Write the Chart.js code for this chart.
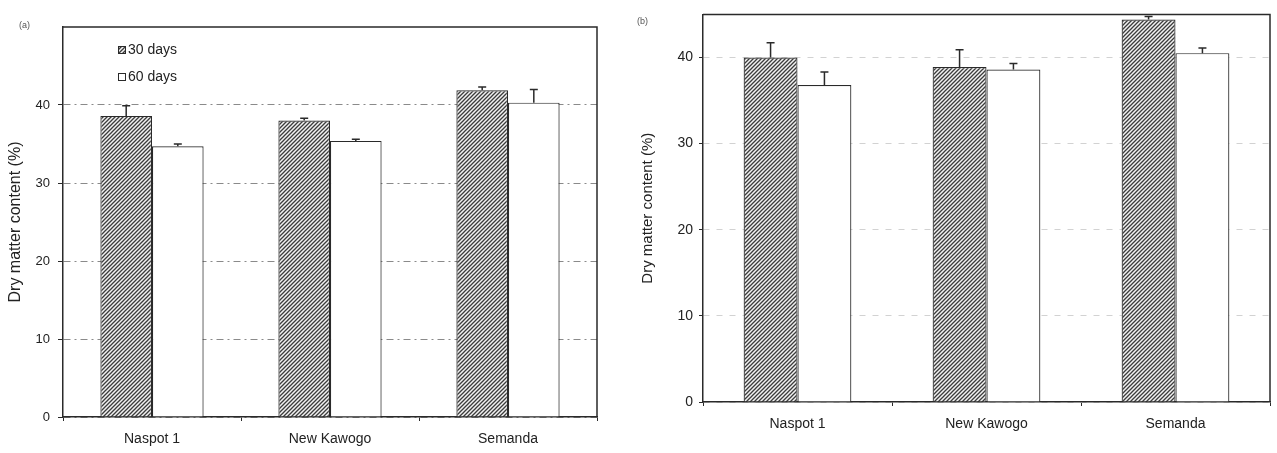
<!DOCTYPE html>
<html>
<head>
<meta charset="utf-8">
<script src="https://cdn.jsdelivr.net/npm/chart.js@4/dist/chart.umd.min.js"></script>
<style>
  html, body { margin: 0; padding: 0; background: #fff; }
  #wrap { position: relative; width: 1277px; height: 453px; overflow: hidden; }
  .panel { position: absolute; top: 0; }
  .tag { position: absolute; font: 9px "Liberation Sans", Arial, sans-serif; color: #555; }
</style>
</head>
<body>
<div id="wrap">
  <canvas id="chartA" class="panel" width="620" height="453" style="left:0px"></canvas>
  <canvas id="chartB" class="panel" width="657" height="453" style="left:620px"></canvas>
  <div class="tag" style="left:19px;top:20px">(a)</div>
  <div class="tag" style="left:637px;top:16px">(b)</div>
</div>
<script>
// Cultivars and storage periods
const categories = ['Naspot 1', 'New Kawogo', 'Semanda'];
const seriesLabels = ['30 days', '60 days'];

// Panel (a): dry matter content (%) and standard errors
const dmA30 = [38.6, 38.0, 41.9];
const errA30 = [1.3, 0.3, 0.4];
const dmA60 = [34.7, 35.4, 40.3];
const errA60 = [0.3, 0.2, 1.7];

// Panel (b): dry matter content (%) and standard errors
const dmB30 = [40.0, 38.9, 44.4];
const errB30 = [1.7, 2.0, 0.35];
const dmB60 = [36.8, 38.6, 40.5];
const errB60 = [1.5, 0.7, 0.6];

// Y axis tick values
const yTicksA = [0, 10, 20, 30, 40];
const yTicksB = [0, 10, 20, 30, 40];

const FONT = '"Liberation Sans", Arial, sans-serif';
const INK = '#2a2a2a';

// Diagonal hatch fill for the 30-day bars
function makeHatch() {
  const c = document.createElement('canvas');
  c.width = 4; c.height = 4;
  const g = c.getContext('2d');
  g.fillStyle = '#f2f2f2';
  g.fillRect(0, 0, 4, 4);
  g.strokeStyle = '#3c3c3c';
  g.lineWidth = 1.3;
  g.beginPath();
  g.moveTo(-1, 5); g.lineTo(5, -1);
  g.moveTo(-1, 1); g.lineTo(1, -1);
  g.moveTo(3, 5); g.lineTo(5, 3);
  g.stroke();
  return g.createPattern(c, 'repeat');
}
const hatch = makeHatch();

// Upward error bars on top of each bar
const errorBars = {
  id: 'errorBars',
  afterDatasetsDraw(chart) {
    const ctx = chart.ctx;
    const yScale = chart.scales.y;
    ctx.save();
    ctx.strokeStyle = INK;
    ctx.lineWidth = 1.5;
    chart.data.datasets.forEach((ds, di) => {
      const meta = chart.getDatasetMeta(di);
      meta.data.forEach((bar, i) => {
        const v = ds.data[i];
        const e = ds.errors[i];
        const yTop = yScale.getPixelForValue(v + e);
        ctx.beginPath();
        ctx.moveTo(bar.x, bar.y);
        ctx.lineTo(bar.x, yTop);
        ctx.moveTo(bar.x - 4, yTop);
        ctx.lineTo(bar.x + 4, yTop);
        ctx.stroke();
      });
    });
    ctx.restore();
  }
};

// Box around the plot area
const frame = {
  id: 'frame',
  afterDatasetsDraw(chart) {
    const a = chart.chartArea;
    const ctx = chart.ctx;
    ctx.save();
    ctx.strokeStyle = INK;
    ctx.lineWidth = 1.5;
    ctx.beginPath();
    ctx.moveTo(a.left, a.top);
    ctx.lineTo(a.right, a.top);
    ctx.lineTo(a.right, a.bottom);
    ctx.stroke();
    ctx.restore();
  }
};

// Legend drawn inside the plot area of panel (a)
const innerLegend = {
  id: 'innerLegend',
  afterDraw(chart, args, opts) {
    if (!opts.show) return;
    const a = chart.chartArea;
    const ctx = chart.ctx;
    ctx.save();
    ctx.font = '14px ' + FONT;
    ctx.textBaseline = 'middle';
    chart.data.datasets.forEach((ds, i) => {
      const x = a.left + 55;
      const y = a.top + 19 + i * 27;
      ctx.fillStyle = ds.backgroundColor;
      ctx.fillRect(x, y, 8, 8);
      ctx.strokeStyle = INK;
      ctx.lineWidth = 1;
      ctx.strokeRect(x + 0.5, y + 0.5, 7, 7);
      ctx.fillStyle = '#222';
      ctx.fillText(ds.label, x + 10, y + 4);
    });
    ctx.restore();
  }
};

function buildChart(id, d30, e30, d60, e60, yMax, yTicks, cfg) {
  return new Chart(document.getElementById(id), {
    type: 'bar',
    data: {
      labels: categories,
      datasets: [
        { label: seriesLabels[0], data: d30, errors: e30, backgroundColor: hatch,
          borderColor: INK, borderWidth: 1.2, categoryPercentage: cfg.catPct, barPercentage: 1 },
        { label: seriesLabels[1], data: d60, errors: e60, backgroundColor: '#ffffff',
          borderColor: INK, borderWidth: 1.2, categoryPercentage: cfg.catPct, barPercentage: 1 }
      ]
    },
    options: {
      responsive: false,
      animation: false,
      layout: { padding: cfg.padding },
      plugins: {
        legend: { display: false },
        tooltip: { enabled: false },
        innerLegend: { show: cfg.legend }
      },
      scales: {
        x: {
          grid: { offset: true, drawOnChartArea: false, drawTicks: true, tickLength: 4, color: INK, lineWidth: 1 },
          border: { color: INK, width: 1.5 },
          ticks: { color: '#222', font: { family: FONT, size: cfg.xFont }, padding: cfg.xPad },
          afterFit(s) { s.height = cfg.xHeight; }
        },
        y: {
          min: 0,
          max: yMax,
          afterBuildTicks(s) { s.ticks = yTicks.map(v => ({ value: v })); },
          grid: { color: cfg.gridColor, lineWidth: 1, tickLength: cfg.yTickLen, tickColor: INK, tickBorderDash: [] },
          border: { color: INK, width: 1.5, dash: cfg.gridDash },
          ticks: { color: '#222', font: { family: FONT, size: cfg.yFont }, padding: cfg.yPad },
          title: { display: true, text: 'Dry matter content (%)', color: '#222',
                   font: { family: FONT, size: cfg.titleFont }, padding: { top: cfg.titlePad, bottom: 0 } },
          afterFit(s) { s.width = cfg.yWidth; }
        }
      }
    },
    plugins: [errorBars, frame, innerLegend]
  });
}

buildChart('chartA', dmA30, errA30, dmA60, errA60, 50, yTicksA, {
  catPct: 0.58, padding: { left: 0, right: 23, top: 27, bottom: 0 },
  legend: true, xFont: 14, xPad: 10, xHeight: 36, yFont: 13, yPad: 8, yTickLen: 5,
  gridColor: '#8a8a8a', gridDash: [7, 4, 2, 4], titleFont: 16, titlePad: 6, yWidth: 63
});

buildChart('chartB', dmB30, errB30, dmB60, errB60, 45, yTicksB, {
  catPct: 0.57, padding: { left: 0, right: 7, top: 13, bottom: 0 },
  legend: false, xFont: 14, xPad: 10, xHeight: 51, yFont: 14, yPad: 6, yTickLen: 4,
  gridColor: '#d2d2d2', gridDash: [6, 7], titleFont: 15, titlePad: 19, yWidth: 83
});
</script>
</body>
</html>
